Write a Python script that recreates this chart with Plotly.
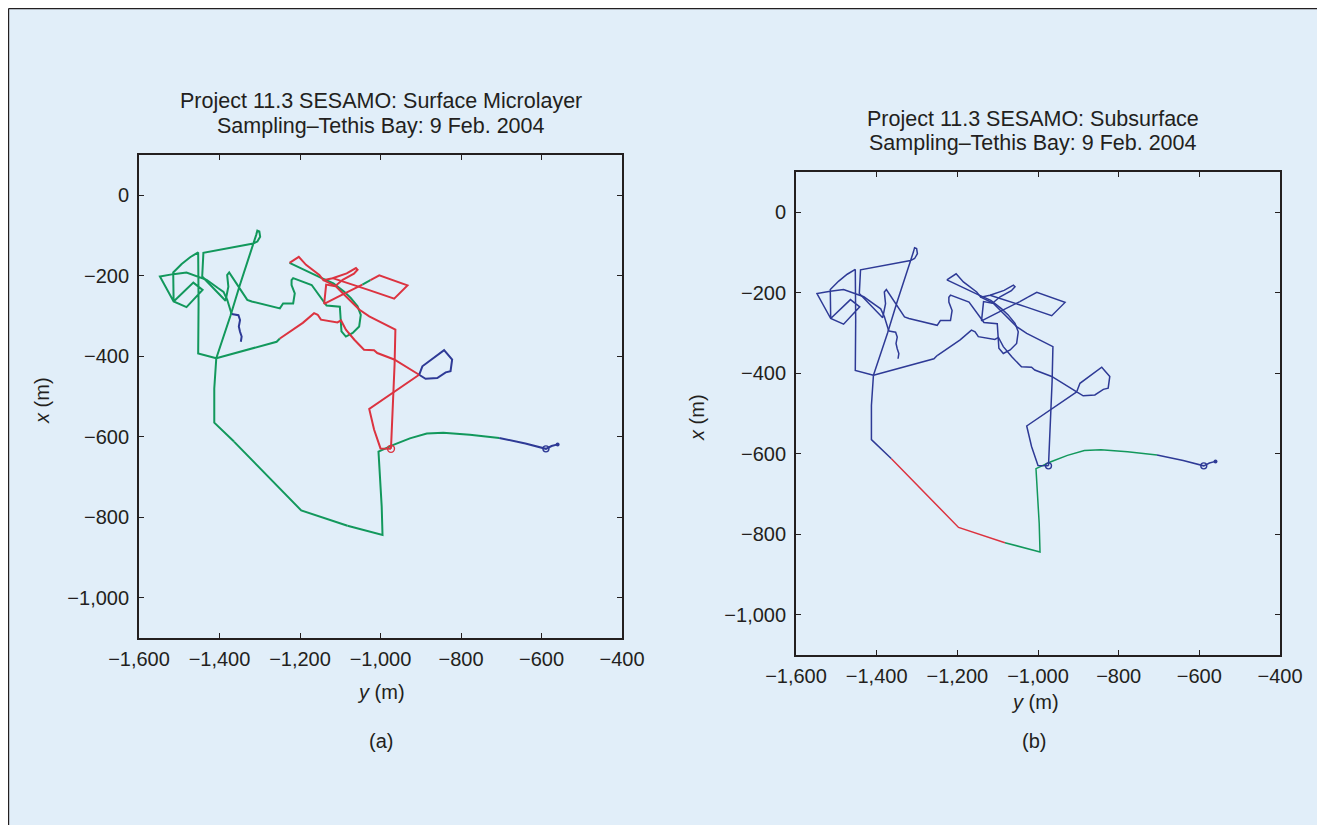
import plotly.graph_objects as go

# ---------------- data (metres): y = east/west (horizontal), x = north/south (vertical)
Y_TICKS = [-1600, -1400, -1200, -1000, -800, -600, -400]
Y_TICK_TEXT = ["\u22121,600", "\u22121,400", "\u22121,200", "\u22121,000", "\u2212800", "\u2212600", "\u2212400"]
X_TICKS = [0, -200, -400, -600, -800, -1000]
X_TICK_TEXT = ["0", "\u2212200", "\u2212400", "\u2212600", "\u2212800", "\u22121,000"]

# track legs (y list, x list)
east_run_y = [-560, -575, -589, -640, -705]
east_run_x = [-619, -623, -630, -617, -603]

west_run_y = [-705, -778, -844, -885, -927, -968, -1005, -1001, -997, -995, -1082]
west_run_x = [-603, -595, -590, -592, -604, -620, -637, -707, -774, -844, -821]

southwest_y = [-1082, -1197, -1364]
southwest_x = [-821, -783, -612]

west_up_y = [-1364, -1413, -1413, -1408]
west_up_x = [-612, -565, -480, -405]

west_loops_y = [-1408, -1453, -1452, -1453, -1473, -1494, -1515, -1514, -1465, -1442, -1482,
                -1514, -1548, -1515, -1482, -1432, -1403, -1390, -1381, -1370]
west_loops_x = [-405, -393, -268, -142, -154, -171, -192, -264, -217, -235, -278,
                -264, -202, -196, -192, -210, -231, -240, -259, -295]

tail_y = [-1370, -1353, -1349, -1352, -1349, -1345, -1347]
tail_x = [-295, -298, -310, -326, -339, -351, -364]

hook_run_y = [-1408, -1373, -1350, -1312, -1309, -1306, -1301, -1299, -1306, -1316, -1440,
              -1443, -1405, -1385, -1378, -1381, -1376, -1349, -1331, -1320, -1250, -1242,
              -1217, -1213, -1221, -1221, -1217, -1171, -1142, -1134, -1101, -1099, -1097,
              -1086, -1069, -1053, -1049, -1057, -1074, -1090, -1117, -1150, -1190, -1226]
hook_run_x = [-405, -300, -225, -113, -99, -88, -90, -103, -115, -120, -143,
              -202, -243, -262, -227, -198, -192, -231, -260, -264, -281, -269,
              -269, -244, -223, -211, -206, -223, -264, -274, -277, -309, -338,
              -351, -342, -326, -297, -276, -255, -240, -219, -204, -186, -168]

top_knot_y = [-1226, -1203, -1185, -1167, -1152, -1142, -1119, -1084, -1061, -1057, -1066,
              -1094, -1113, -1135, -1140, -1101, -1045]
top_knot_x = [-168, -153, -173, -186, -198, -211, -206, -194, -181, -185, -195,
              -210, -226, -222, -270, -250, -222]

knot_green_y = [-1045, -1025]
knot_green_x = [-222, -211]

diamond_y = [-1025, -1003, -933, -966, -1030, -1080, -1119]
diamond_x = [-211, -199, -224, -257, -235, -218, -206]

north_drop_y = [-1142, -1111, -1090, -1053, -1028, -995, -963, -965, -968, -974]
north_drop_x = [-211, -226, -247, -284, -301, -317, -334, -420, -492, -630]

south_link_y = [-1408, -1349, -1258, -1250]
south_link_x = [-405, -389, -364, -356]

mid_run_y = [-1250, -1193, -1165, -1156, -1148, -1107, -1098, -1086, -1065, -1041, -1016,
             -1008, -966, -945, -904]
mid_run_x = [-356, -317, -293, -297, -309, -316, -311, -334, -359, -384, -385,
             -392, -408, -421, -446]

east_loop_y = [-904, -896, -842, -822, -826, -838, -859, -888, -904]
east_loop_x = [-446, -425, -385, -408, -437, -440, -454, -456, -446]

return_y = [-904, -968, -1028, -1016, -1000, -974]
return_x = [-446, -491, -531, -582, -629, -630]

# legs with their state in panel (a) and panel (b)
LEGS = [
    ("east_run", east_run_y, east_run_x, "B", "B"),
    ("west_run", west_run_y, west_run_x, "G", "G"),
    ("southwest", southwest_y, southwest_x, "G", "R"),
    ("west_up", west_up_y, west_up_x, "G", "B"),
    ("west_loops", west_loops_y, west_loops_x, "G", "B"),
    ("tail", tail_y, tail_x, "B", "B"),
    ("hook_run", hook_run_y, hook_run_x, "G", "B"),
    ("top_knot", top_knot_y, top_knot_x, "R", "B"),
    ("knot_green", knot_green_y, knot_green_x, "G", "B"),
    ("diamond", diamond_y, diamond_x, "R", "B"),
    ("north_drop", north_drop_y, north_drop_x, "R", "B"),
    ("south_link", south_link_y, south_link_x, "G", "B"),
    ("mid_run", mid_run_y, mid_run_x, "R", "B"),
    ("east_loop", east_loop_y, east_loop_x, "B", "B"),
    ("return", return_y, return_x, "R", "B"),
]

# station circles (y, x) and track end
station_y = [-589, -974]
station_x = [-630, -630]
station_state_a = ["B", "R"]
end_y = [-560]
end_x = [-619]

# ---------------- style
# the page body adds an 8 px margin, so the figure is laid out 8 px smaller
OFF = 8
W, H = 1325 - OFF, 825 - OFF
STATE_COLOR = {"B": "#2E3A96", "G": "#12985C", "R": "#DC3340"}
BG = "#E1EEF9"
INK = "#231F20"
FONT = "Liberation Sans, Arial, Helvetica, sans-serif"
FS = 20

fig = go.Figure()

for panel, (xa, ya, lw) in enumerate([("x", "y", 2.0), ("x2", "y2", 1.5)]):
    for name, ys, xs, sa, sb in LEGS:
        st = sa if panel == 0 else sb
        fig.add_trace(go.Scatter(x=ys, y=xs, mode="lines", xaxis=xa, yaxis=ya,
                                 line=dict(color=STATE_COLOR[st], width=lw),
                                 hoverinfo="skip", showlegend=False))
    for i in range(len(station_y)):
        st = station_state_a[i] if panel == 0 else "B"
        fig.add_trace(go.Scatter(x=[station_y[i]], y=[station_x[i]], mode="markers",
                                 xaxis=xa, yaxis=ya,
                                 marker=dict(symbol="circle-open", size=7 if st == "R" else 6,
                                             color=STATE_COLOR[st], line=dict(width=1.4)),
                                 hoverinfo="skip", showlegend=False))
    fig.add_trace(go.Scatter(x=end_y, y=end_x, mode="markers", xaxis=xa, yaxis=ya,
                             marker=dict(size=4, color=STATE_COLOR["B"]),
                             hoverinfo="skip", showlegend=False))

def px(x):
    return (x - OFF) / W

def py(y):
    return 1 - (y - OFF) / H

axis_common = dict(showgrid=False, zeroline=False, showline=True, automargin=False,
                   linecolor=INK, linewidth=1.8, mirror="ticks", ticks="inside",
                   ticklen=5, tickwidth=1, tickcolor=INK,
                   tickfont=dict(family=FONT, size=FS, color=INK))

fig.update_layout(
    width=W, height=H,
    margin=dict(l=0, r=0, t=0, b=0, autoexpand=False),
    paper_bgcolor=BG, plot_bgcolor=BG,
    font=dict(family=FONT, color=INK),
    showlegend=False,
    xaxis=dict(axis_common, domain=[px(139), px(622)], range=[-1600, -400],
               tickvals=Y_TICKS, ticktext=Y_TICK_TEXT, anchor="y", ticklabelstandoff=2),
    yaxis=dict(axis_common, domain=[py(638), py(155)], range=[-1100, 100],
               tickvals=X_TICKS, ticktext=X_TICK_TEXT, anchor="x", ticklabelstandoff=4),
    xaxis2=dict(axis_common, domain=[px(796), px(1280)], range=[-1600, -400],
                tickvals=Y_TICKS, ticktext=Y_TICK_TEXT, anchor="y2", ticklabelstandoff=2),
    yaxis2=dict(axis_common, domain=[py(655), py(172)], range=[-1100, 100],
                tickvals=X_TICKS, ticktext=X_TICK_TEXT, anchor="x2", ticklabelstandoff=4),
)

# outer frame: top and left edges of the boxed figure
fig.add_shape(type="line", xref="paper", yref="paper",
              x0=px(8.6), x1=1, y0=py(8.6), y1=py(8.6),
              line=dict(color=INK, width=1.2))
fig.add_shape(type="line", xref="paper", yref="paper",
              x0=px(8.6), x1=px(8.6), y0=0, y1=py(8.6),
              line=dict(color=INK, width=1.2))

def text(x, y, s, size=FS, angle=0):
    fig.add_annotation(x=px(x), y=py(y), xref="paper", yref="paper", text=s,
                       showarrow=False, textangle=angle, xanchor="center", yanchor="middle",
                       font=dict(family=FONT, size=size, color=INK))

TS = 21.5
text(381, 101, "Project 11.3 SESAMO: Surface Microlayer", TS)
text(381, 126, "Sampling\u2013Tethis Bay: 9 Feb. 2004", TS)
text(1033, 119, "Project 11.3 SESAMO: Subsurface", TS)
text(1033, 143, "Sampling\u2013Tethis Bay: 9 Feb. 2004", TS)
text(381, 692, "<i>y</i> (m)")
text(1035, 702, "<i>y</i> (m)")
text(42, 401, "<i>x</i> (m)", angle=-90)
text(697, 418, "<i>x</i> (m)", angle=-90)
text(381, 741, "(a)")
text(1034, 741, "(b)")

fig.write_html("out.html")
